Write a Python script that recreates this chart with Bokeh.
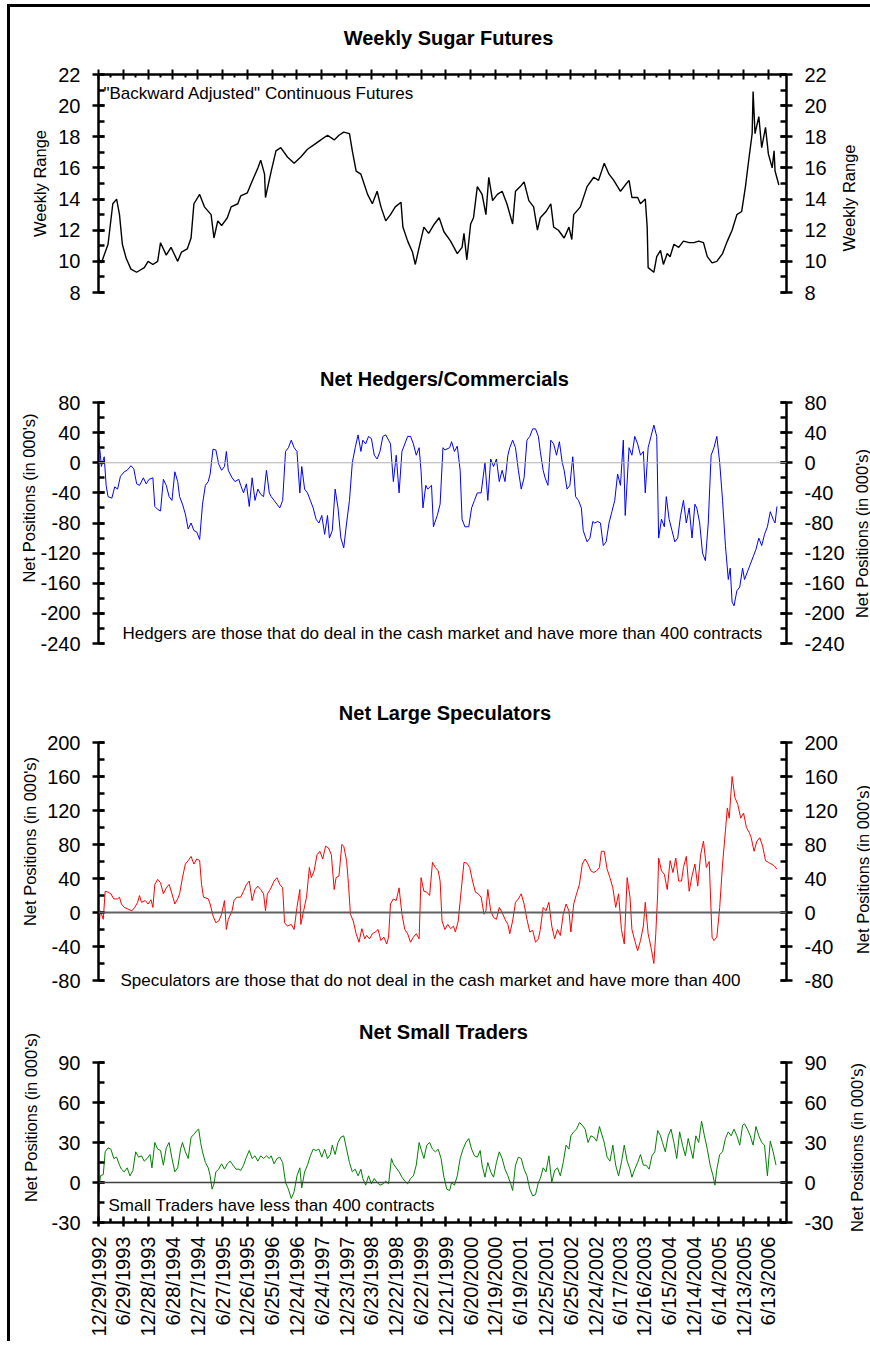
import math
import pandas as pd
from bokeh.plotting import figure
from bokeh.models import (Range1d, LinearAxis, FixedTicker, SingleIntervalTicker, Span, Label,
                          PrintfTickFormatter)
from bokeh.layouts import column, row
from bokeh.embed import file_html
from bokeh.resources import INLINE

# ---------------- data ----------------
START = "12/29/1992"
date_labels = ["12/29/1992", "6/29/1993", "12/28/1993", "6/28/1994", "12/27/1994", "6/27/1995",
               "12/26/1995", "6/25/1996", "12/24/1996", "6/24/1997", "12/23/1997", "6/23/1998",
               "12/22/1998", "6/22/1999", "12/21/1999", "6/20/2000", "12/19/2000", "6/19/2001",
               "12/25/2001", "6/25/2002", "12/24/2002", "6/17/2003", "12/16/2003", "6/15/2004",
               "12/14/2004", "6/14/2005", "12/13/2005", "6/13/2006"]

# weeks since 12/29/1992
sugar_week = [0, 3, 10, 15, 19, 22, 25, 29, 34, 40,
              48, 52, 57, 62, 65, 71, 76, 83, 87, 93,
              97, 100, 106, 111, 118, 121, 125, 129, 135, 139,
              146, 149, 156, 160, 167, 170, 174, 175, 181, 186,
              191, 198, 205, 212, 219, 226, 233, 240, 247, 252,
              257, 263, 266, 270, 275, 282, 287, 292, 296, 301,
              306, 311, 317, 319, 324, 329, 332, 336, 341, 346,
              352, 357, 362, 369, 376, 381, 383, 386, 390, 393,
              397, 402, 406, 409, 413, 418, 423, 428, 434, 437,
              442, 446, 451, 456, 460, 463, 469, 474, 477, 482,
              488, 493, 496, 498, 505, 512, 519, 524, 530, 535,
              540, 547, 552, 556, 559, 565, 568, 573, 575, 576,
              578, 582, 585, 589, 592, 596, 599, 603, 608, 613,
              619, 624, 629, 634, 638, 643, 648, 654, 659, 664,
              669, 674, 678, 681, 685, 686, 688, 692, 695, 699,
              702, 706, 708, 709, 713]
sugar_price = [10.2, 9.9, 11.1, 13.7, 14.0, 13.0, 11.1, 10.2, 9.5, 9.3,
               9.6, 10.0, 9.8, 10.0, 11.2, 10.4, 10.9, 10.0, 10.6, 10.8,
               11.5, 13.7, 14.3, 13.5, 13.0, 11.5, 12.6, 12.3, 12.8, 13.5,
               13.7, 14.2, 14.4, 15.0, 16.0, 16.5, 15.6, 14.1, 15.8, 17.1,
               17.3, 16.7, 16.3, 16.7, 17.2, 17.5, 17.8, 18.1, 17.8, 18.1,
               18.3, 18.2, 17.1, 15.8, 15.6, 14.3, 13.7, 14.5, 13.5, 12.6,
               13.0, 13.5, 13.8, 12.2, 11.3, 10.6, 9.8, 10.9, 12.2, 11.8,
               12.4, 12.8, 11.9, 11.3, 10.5, 10.9, 11.8, 10.1, 12.4, 12.8,
               14.8, 14.3, 13.0, 15.4, 13.9, 14.3, 14.5, 13.7, 12.4, 14.5,
               14.8, 15.1, 13.9, 13.5, 12.0, 12.8, 13.2, 13.7, 12.2, 12.0,
               11.5, 12.2, 11.4, 13.0, 13.5, 14.8, 15.4, 15.2, 16.3, 15.6,
               15.2, 14.5, 14.9, 15.2, 14.1, 14.1, 13.7, 14.0, 12.2, 9.6,
               9.5, 9.3, 10.3, 10.7, 9.8, 10.5, 10.3, 11.1, 10.9, 11.3,
               11.2, 11.2, 11.3, 11.2, 10.3, 9.9, 10.0, 10.5, 11.3, 12.0,
               13.0, 13.2, 14.8, 16.3, 18.2, 20.9, 18.2, 19.3, 17.3, 18.6,
               16.9, 16.0, 17.1, 15.8, 14.9]

hedge_week = [0, 2, 3, 6, 8, 10, 14, 17, 20, 23,
              27, 30, 34, 37, 40, 43, 47, 50, 53, 57,
              59, 62, 65, 68, 71, 74, 77, 80, 83, 85,
              88, 91, 94, 97, 100, 103, 106, 109, 112, 115,
              117, 120, 123, 126, 129, 132, 134, 136, 140, 143,
              147, 149, 152, 155, 158, 161, 164, 167, 170, 173,
              176, 179, 181, 184, 187, 190, 193, 196, 199, 202,
              205, 208, 211, 213, 216, 219, 222, 225, 228, 231,
              234, 237, 240, 242, 245, 248, 251, 254, 257, 260,
              263, 266, 269, 272, 275, 277, 280, 283, 286, 289,
              292, 295, 298, 301, 304, 306, 309, 312, 315, 318,
              321, 324, 327, 330, 333, 336, 338, 340, 343, 345,
              349, 351, 355, 358, 361, 363, 368, 370, 373, 376,
              379, 381, 384, 388, 391, 394, 397, 401, 405, 408,
              411, 414, 417, 420, 423, 426, 429, 431, 434, 437,
              440, 443, 446, 449, 452, 455, 458, 461, 463, 466,
              468, 471, 474, 477, 480, 483, 486, 488, 491, 494,
              497, 500, 503, 506, 508, 512, 515, 518, 520, 523,
              526, 529, 532, 535, 538, 541, 544, 547, 550, 552,
              556, 559, 562, 565, 568, 571, 573, 576, 579, 582,
              585, 587, 590, 593, 595, 598, 601, 604, 607, 610,
              613, 616, 619, 622, 625, 627, 630, 633, 636, 639,
              642, 645, 648, 651, 654, 657, 660, 662, 664, 666,
              669, 672, 675, 677, 680, 683, 686, 689, 692, 695,
              698, 701, 704, 707, 709, 711]
hedge_net = [33, 10, -5, 8, -30, -45, -47, -32, -35, -18,
             -12, -10, -4, -8, -28, -30, -20, -28, -22, -20,
             -58, -62, -64, -22, -30, -45, -50, -12, -25, -45,
             -55, -68, -88, -80, -90, -92, -102, -55, -30, -25,
             -15, 18, 17, -2, -10, -5, 15, -10, -20, -25,
             -22, -30, -40, -28, -58, -20, -50, -35, -42, -45,
             -10, -40, -45, -50, -55, -60, -50, 15, 20, 30,
             20, 15, -40, -5, -35, -40, -50, -60, -75, -80,
             -70, -95, -70, -100, -90, -35, -60, -100, -113, -80,
             -50, 0, 20, 37, 15, 30, 25, 35, 32, 10,
             5, 15, 35, 37, 30, 25, -25, 10, -40, 15,
             25, 35, 35, 25, 10, 20, -10, -60, -30, -35,
             -30, -85, -70, -55, 20, 17, 20, 28, 15, 22,
             -10, -75, -85, -85, -60, -50, -40, -40, 0, -50,
             5, -5, 5, -25, -10, -25, 10, 20, 30, 20,
             -10, -35, -20, 30, 35, 45, 45, 35, 15, -10,
             -20, -30, 30, 25, 10, 28, 0, -10, -35, -30,
             8, -45, -50, -60, -90, -105, -100, -78, -80, -78,
             -80, -110, -105, -80, -65, -50, -15, -30, 30, -70,
             20, 10, 35, 25, 10, 15, -40, 20, 35, 50,
             35, -100, -75, -85, -45, -75, -90, -105, -100, -70,
             -50, -80, -60, -100, -55, -60, -80, -120, -130, -80,
             10, 20, 35, 0, -50, -110, -155, -140, -185, -190,
             -170, -165, -140, -155, -145, -135, -125, -115, -100, -110,
             -95, -85, -65, -75, -80, -58]

spec_week = [0, 2, 5, 7, 10, 13, 16, 20, 22, 24,
             27, 31, 35, 38, 41, 43, 45, 49, 52, 55,
             57, 59, 62, 65, 68, 71, 74, 77, 80, 83,
             85, 88, 91, 94, 97, 100, 103, 106, 108, 110,
             115, 117, 120, 123, 126, 129, 132, 134, 136, 140,
             142, 145, 149, 152, 155, 158, 161, 164, 167, 170,
             173, 175, 177, 180, 184, 187, 190, 193, 195, 198,
             202, 205, 208, 211, 212, 215, 218, 221, 223, 226,
             229, 232, 235, 238, 241, 244, 247, 249, 252, 255,
             257, 260, 262, 264, 267, 270, 273, 276, 279, 281,
             284, 287, 290, 293, 296, 299, 302, 304, 306, 309,
             312, 315, 318, 321, 324, 327, 330, 333, 336, 338,
             341, 344, 347, 350, 353, 356, 358, 360, 363, 366,
             369, 372, 374, 377, 380, 383, 386, 389, 392, 395,
             398, 401, 404, 406, 408, 411, 414, 417, 420, 423,
             426, 429, 431, 434, 437, 440, 443, 446, 449, 452,
             455, 458, 461, 463, 466, 469, 472, 475, 478, 481,
             484, 487, 490, 493, 495, 498, 501, 504, 507, 510,
             513, 516, 519, 522, 525, 527, 530, 533, 536, 539,
             542, 545, 548, 551, 554, 557, 559, 562, 565, 568,
             571, 573, 576, 579, 582, 584, 586, 587, 590, 593,
             596, 599, 602, 605, 608, 611, 613, 616, 619, 622,
             625, 628, 631, 634, 637, 640, 643, 645, 648, 651,
             654, 657, 659, 661, 664, 667, 670, 673, 676, 679,
             682, 684, 687, 690, 693, 696, 699, 702, 705, 708,
             711]
spec_net = [-21, 2, -8, 25, 24, 22, 16, 16, 18, 10,
            6, 4, 2, 6, 12, 20, 12, 14, 10, 15,
            6, 33, 39, 35, 22, 29, 33, 22, 10, 16,
            22, 41, 57, 61, 66, 57, 63, 61, 33, 18,
            16, 10, -4, -12, -10, -2, 14, -20, -8, 2,
            14, 18, 18, 25, 33, 37, 14, 27, 31, 27,
            22, 2, 22, 27, 37, 41, 33, 29, -12, -16,
            -14, -20, 6, 27, -14, 2, 18, 53, 41, 49,
            68, 72, 63, 78, 76, 68, 27, 41, 43, 80,
            78, 61, 33, -2, -10, -25, -35, -19, -31, -27,
            -31, -25, -23, -20, -33, -29, -37, -29, 10, 16,
            14, 29, -2, -20, -25, -35, -29, -25, -31, 41,
            25, 24, 20, 59, 53, 49, 37, -10, -20, -14,
            -19, -16, -23, -10, 25, 59, 58, 53, 37, 24,
            22, 18, -2, 2, 27, 2, -6, -8, 6, 0,
            -8, -14, -25, -10, 12, 16, 22, 10, -8, -23,
            -21, -35, -31, -20, 6, 2, 12, -16, -31, -20,
            -27, -2, 10, 2, -23, 10, 22, 33, 57, 63,
            57, 49, 47, 49, 53, 72, 72, 51, 41, 29,
            6, 22, -20, -37, 41, 18, -20, -33, -45, -33,
            -16, 12, -25, -41, -60, -25, 22, 64, 49, 45,
            27, 61, 47, 64, 37, 37, 53, 66, 25, 43,
            57, 31, 68, 84, 53, 60, -29, -33, -29, 6,
            57, 96, 123, 111, 160, 135, 127, 111, 117, 100,
            94, 88, 72, 84, 88, 78, 61, 59, 57, 55,
            51]

small_week = [0, 2, 5, 7, 10, 13, 16, 19, 22, 24,
              27, 30, 33, 36, 39, 42, 45, 48, 51, 54,
              56, 59, 62, 65, 68, 71, 74, 77, 80, 83,
              86, 88, 91, 94, 97, 100, 103, 105, 107, 109,
              112, 115, 117, 119, 121, 123, 126, 129, 132, 135,
              138, 141, 144, 147, 149, 152, 155, 158, 161, 164,
              167, 170, 173, 176, 179, 181, 184, 187, 190, 193,
              196, 199, 202, 205, 208, 211, 213, 216, 219, 222,
              225, 228, 231, 234, 237, 240, 243, 245, 248, 251,
              254, 257, 260, 263, 266, 269, 272, 275, 277, 280,
              283, 286, 289, 292, 295, 298, 301, 304, 307, 309,
              312, 315, 318, 321, 324, 327, 330, 333, 336, 338,
              341, 344, 347, 350, 353, 356, 359, 362, 365, 368,
              370, 373, 376, 379, 382, 385, 388, 391, 394, 397,
              400, 402, 405, 408, 411, 414, 417, 420, 423, 426,
              429, 432, 434, 437, 440, 443, 446, 449, 452, 455,
              458, 461, 463, 466, 469, 472, 475, 478, 481, 484,
              487, 490, 493, 495, 498, 501, 504, 507, 510, 513,
              516, 519, 522, 525, 527, 530, 533, 536, 539, 542,
              545, 548, 551, 554, 557, 559, 562, 565, 568, 571,
              574, 577, 580, 583, 586, 589, 591, 594, 597, 600,
              603, 606, 609, 612, 615, 618, 621, 623, 626, 629,
              632, 635, 638, 641, 644, 646, 648, 651, 654, 657,
              660, 663, 666, 669, 672, 675, 677, 680, 683, 686,
              689, 692, 695, 698, 701, 704, 707, 710]
small_net = [-10, 5, 6, 23, 26, 25, 18, 19, 13, 10,
             8, 11, 5, 9, 23, 19, 20, 16, 18, 21,
             11, 30, 25, 24, 13, 26, 30, 18, 8, 11,
             25, 30, 23, 18, 34, 36, 39, 40, 30, 23,
             15, 11, 5, -5, -1, 8, 10, 14, 10, 14,
             16, 13, 10, 10, 9, 13, 19, 24, 18, 20,
             16, 20, 18, 20, 18, 20, 14, 18, 19, 15,
             0, -5, -12, -7, 5, 11, -4, 8, 13, 20,
             25, 24, 25, 19, 25, 18, 21, 28, 21, 30,
             34, 35, 25, 15, 8, 10, 5, 10, 3, -2,
             5, -1, 3, 0, -2, -1, 1, -1, 18, 14,
             11, 8, 4, 1, -1, 3, 5, 13, 30, 25,
             18, 28, 30, 25, 23, 25, 18, 4, -5, -6,
             0, -2, 5, 18, 25, 30, 33, 25, 20, 19,
             24, 13, 4, 15, 8, 4, 15, 23, 18, 10,
             5, -1, -6, 13, 19, 18, 10, 5, -5, -10,
             -9, 0, 3, 11, 8, 20, 0, 9, 11, 5,
             15, 28, 25, 35, 38, 40, 45, 43, 40, 30,
             35, 34, 31, 42, 37, 30, 19, 16, 28, 13,
             5, 15, 28, 16, 10, 4, 10, 15, 21, 13,
             13, 10, 20, 23, 39, 35, 30, 23, 35, 40,
             30, 18, 38, 28, 20, 33, 24, 18, 35, 30,
             46, 35, 25, 13, 5, -2, 10, 21, 23, 33,
             38, 35, 40, 35, 28, 43, 44, 40, 35, 28,
             42, 35, 30, 28, 5, 31, 23, 13]

# ---------------- layout ----------------
FONT = "Liberation Sans"
X_END = 721
FRAME_W = 688
LEFT_B = 88
ROW_W = 860
start_ts = pd.Timestamp(START)
tick_weeks = [int((pd.Timestamp(d) - start_ts).days // 7) for d in date_labels]
minor_weeks = [(a + b) / 2 for a, b in zip(tick_weeks[:-1], tick_weeks[1:])] + [tick_weeks[-1] + 13]
x_ticker = FixedTicker(ticks=tick_weeks, minor_ticks=minor_weeks)


def clean(p):
    p.outline_line_color = None
    p.grid.visible = False
    p.background_fill_color = "white"
    p.border_fill_color = "white"


def make_fig(lo, hi, axis_px, extra_top, extra_bot, top, bottom, right_b, xloc):
    """Frame shows [lo, hi] over axis_px pixels, plus extra room above/below for texts."""
    ppu = axis_px / (hi - lo)
    p = figure(frame_width=FRAME_W, frame_height=axis_px + extra_top + extra_bot,
               min_border_left=LEFT_B, min_border_right=right_b,
               min_border_top=top, min_border_bottom=bottom,
               x_range=Range1d(0, X_END),
               y_range=Range1d(lo - extra_bot / ppu, hi + extra_top / ppu),
               x_axis_location=xloc, y_axis_location="left",
               output_backend="svg", toolbar_location=None, title=None)
    clean(p)
    return p


def style_y(ax, interval, bounds):
    ax.ticker = SingleIntervalTicker(interval=interval, num_minor_ticks=2)
    ax.formatter = PrintfTickFormatter(format="%d")
    ax.bounds = bounds
    ax.axis_line_width = 2.5
    ax.axis_line_color = "black"
    ax.major_tick_line_width = 2.5
    ax.major_tick_in = 6
    ax.major_tick_out = 6
    ax.minor_tick_line_width = 2.5
    ax.minor_tick_in = 6
    ax.minor_tick_out = 0
    ax.major_label_text_font = FONT
    ax.major_label_text_font_size = "20px"
    ax.major_label_text_color = "black"
    ax.major_label_standoff = 12


def y_axes(p, interval, bounds, label, standoff):
    ax = p.yaxis[0]
    style_y(ax, interval, bounds)
    ax.axis_label = label
    ax.axis_label_text_font = FONT
    ax.axis_label_text_font_size = "16.5px"
    ax.axis_label_text_font_style = "normal"
    ax.axis_label_text_color = "black"
    ax.axis_label_standoff = standoff
    r = LinearAxis()
    style_y(r, interval, bounds)
    p.add_layout(r, "right")


def txt(p, sx, sy, text, size, bold=False, angle=0.0, align="left"):
    p.add_layout(Label(x=sx, y=sy, x_units="screen", y_units="screen", text=text,
                       text_font=FONT, text_font_size=size,
                       text_font_style="bold" if bold else "normal",
                       text_align=align, text_baseline="middle", angle=angle,
                       text_color="black"))


def side_fig(width, height, sx, sy, text):
    """Narrow strip to the right of a panel carrying its rotated right-hand axis title."""
    s = figure(frame_width=width, frame_height=height, min_border=0,
               x_range=Range1d(0, 1), y_range=Range1d(0, 1),
               x_axis_location=None, y_axis_location=None,
               output_backend="svg", toolbar_location=None, title=None)
    clean(s)
    txt(s, sx, sy, text, "16.5px", angle=math.pi / 2, align="center")
    return s


POS = "Net Positions (in 000's)"

# Title strip for panel 1
t0 = figure(frame_width=ROW_W, frame_height=53, min_border=0,
            x_range=Range1d(0, 1), y_range=Range1d(0, 1),
            x_axis_location=None, y_axis_location=None,
            output_backend="svg", toolbar_location=None, title=None)
clean(t0)
txt(t0, 438, 22.5, "Weekly Sugar Futures", "20px", bold=True, align="center")

# Panel 1: sugar futures
p1 = make_fig(8, 22, 218, 0, 0, 14, 48, 42, "above")
y_axes(p1, 2, (8, 22), "Weekly Range", 6)
xa = p1.xaxis[0]
xa.ticker = x_ticker
xa.axis_line_width = 2.5
xa.major_tick_line_width = 2
xa.major_tick_in = 5
xa.major_tick_out = 5
xa.minor_tick_line_width = 2
xa.minor_tick_in = 3
xa.minor_tick_out = 0
xa.major_label_text_font = FONT
xa.major_label_text_font_size = "1px"
xa.major_label_text_color = None
xa.major_label_standoff = 0
p1.line(sugar_week, sugar_price, line_color="black", line_width=1.4)
txt(p1, 5, 199.5, "\"Backward Adjusted\" Continuous Futures", "17px")
r1 = side_fig(ROW_W - (LEFT_B + FRAME_W + 42), 280, 19, 156.5, "Weekly Range")

# Panel 2: hedgers
p2 = make_fig(-240, 80, 241, 50, 0, 12, 37, 58, None)
y_axes(p2, 40, (-240, 80), POS, -1)
p2.add_layout(Span(location=0, dimension="width", line_color="#b0b0b0", line_width=1))
p2.line(hedge_week, hedge_net, line_color="#0000ff", line_width=1)
txt(p2, 346, 265, "Net Hedgers/Commercials", "20px", bold=True, align="center")
txt(p2, 24, 10, "Hedgers are those that do deal in the cash market and have more than 400 contracts", "17px")
r2 = side_fig(ROW_W - (LEFT_B + FRAME_W + 58), 340, 14, 159, POS)

# Panel 3: large speculators
p3 = make_fig(-80, 200, 238, 52, 12, 10, 13, 52, None)
y_axes(p3, 40, (-80, 200), POS, 5)
p3.add_layout(Span(location=0, dimension="width", line_color="#606060", line_width=2))
p3.line(spec_week, spec_net, line_color="#ff0000", line_width=1)
txt(p3, 346.5, 280, "Net Large Speculators", "20px", bold=True, align="center")
txt(p3, 22, 12, "Speculators are those that do not deal in the cash market and have more than 400", "17px")
r3 = side_fig(ROW_W - (LEFT_B + FRAME_W + 52), 325, 22, 146, POS)

# Panel 4: small traders
p4 = make_fig(-30, 90, 160, 50, 0, 7, 119, 47, "below")
y_axes(p4, 30, (-30, 90), POS, 9)
xb = p4.xaxis[0]
xb.ticker = x_ticker
xb.major_label_overrides = {w: lab for w, lab in zip(tick_weeks, date_labels)}
xb.major_label_orientation = math.pi / 2
xb.major_label_text_font = FONT
xb.major_label_text_font_size = "20px"
xb.major_label_text_color = "black"
xb.major_label_standoff = 10
xb.axis_line_width = 2.5
xb.major_tick_line_width = 2.5
xb.major_tick_in = 6
xb.major_tick_out = 4
xb.minor_tick_line_width = 2.5
xb.minor_tick_in = 4
xb.minor_tick_out = 0
p4.add_layout(Span(location=0, dimension="width", line_color="#404040", line_width=1.5))
p4.line(small_week, small_net, line_color="#008000", line_width=1)
txt(p4, 345, 191, "Net Small Traders", "20px", bold=True, align="center")
txt(p4, 10, 17, "Small Traders have less than 400 contracts", "17px")
r4 = side_fig(ROW_W - (LEFT_B + FRAME_W + 47), 336, 20, 201, POS)

layout = column(t0, row(p1, r1, spacing=0), row(p2, r2, spacing=0),
                row(p3, r3, spacing=0), row(p4, r4, spacing=0), spacing=0,
                styles={"border-top": "3px solid black", "border-left": "3px solid black",
                        "margin-left": "7px", "margin-top": "4px"})

open("out.html", "w").write(file_html(layout, INLINE))
